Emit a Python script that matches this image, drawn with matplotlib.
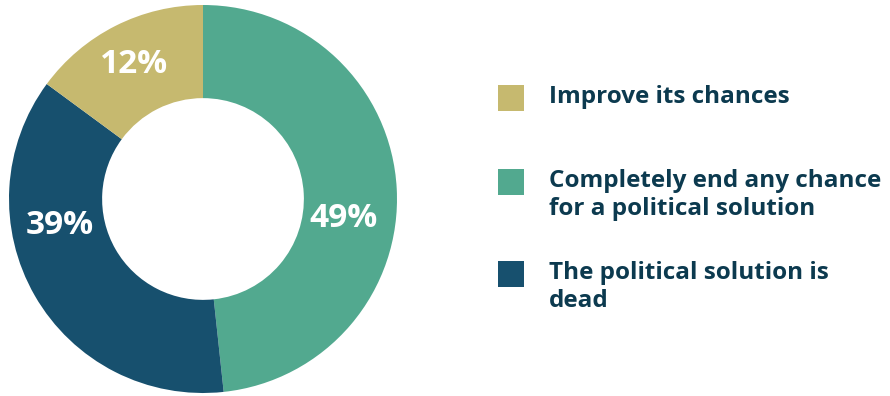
import matplotlib
matplotlib.use("Agg")
import matplotlib.pyplot as plt
from matplotlib.patches import Rectangle

# data: wedge shares as drawn in the picture, labels as printed on it
labels = ["Completely end any chance\nfor a political solution",
          "The political solution is\ndead",
          "Improve its chances"]
shares = [48.3, 36.8, 14.9]
pct_labels = ["49%", "39%", "12%"]
colors = ["#52A98F", "#17506E", "#C6B96F"]

# legend order as in the picture (top to bottom)
legend_order = [2, 0, 1]

text_color = "#0C3A4F"
font = "Open Sans"

W, H = 890, 396
fig = plt.figure(figsize=(W / 100, H / 100), dpi=100)

# donut
cx, cy, r = 203, 199, 194
ax = fig.add_axes([(cx - r) / W, (H - cy - r) / H, 2 * r / W, 2 * r / H])
wedges, _ = ax.pie(shares, colors=colors, startangle=90, counterclock=False,
                   wedgeprops=dict(width=0.48, linewidth=0))
ax.set_xlim(-1, 1)
ax.set_ylim(-1, 1)
ax.set_aspect("equal")

# percent labels sit in the ring, a bit off the wedge middle like the original
label_xy = [(0.722, -0.103), (-0.740, -0.139), (-0.358, 0.693)]
for txt, (x, y) in zip(pct_labels, label_xy):
    ax.text(x, y, txt, color="white", fontsize=24, fontweight="bold",
            family=font, ha="center", va="center")

# legend drawn by hand in pixel space
lax = fig.add_axes([0, 0, 1, 1])
lax.set_xlim(0, W)
lax.set_ylim(H, 0)
lax.axis("off")
tops = [85, 169, 261]
for top, i in zip(tops, legend_order):
    lax.add_patch(Rectangle((498, top), 26, 26, color=colors[i], linewidth=0))
    for k, line in enumerate(labels[i].split("\n")):
        lax.text(549, top + 18 + 28 * k, line, color=text_color, fontsize=17.5,
                 fontweight="bold", family=font, va="baseline", ha="left")

fig.savefig("out.png", dpi=100)
